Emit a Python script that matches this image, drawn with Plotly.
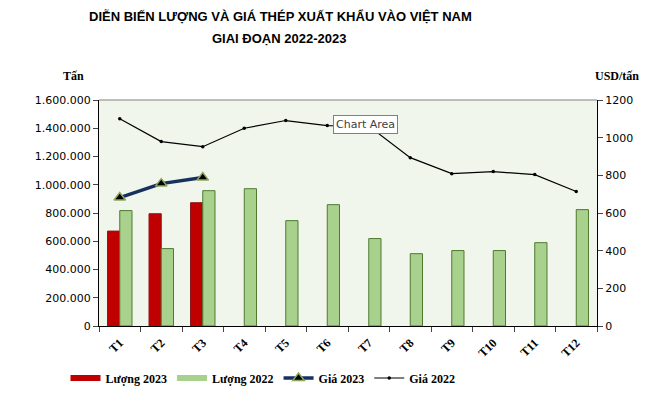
import plotly.graph_objects as go

months = ["T1", "T2", "T3", "T4", "T5", "T6", "T7", "T8", "T9", "T10", "T11", "T12"]
luong_2023 = [672000, 795000, 873000, None, None, None, None, None, None, None, None, None]
luong_2022 = [817000, 548000, 958000, 972000, 746000, 859000, 619000, 512000, 534000, 534000, 590000, 824000]
gia_2023 = [682, 756, 788, None, None, None, None, None, None, None, None, None]
gia_2022 = [1101, 979, 952, 1050, 1091, 1064, 1062, 894, 809, 820, 804, 714]

serif = "Liberation Serif"
sans = "DejaVu Sans"
title_font = "Liberation Sans"

# page body has an 8px margin; figure sized so that it fits the 658x396 window
W, H, OFF = 642, 380, 8
PL, PR, PT, PB = 99, 597, 100, 326  # plot area in window pixels

fig = go.Figure()
fig.add_trace(go.Bar(x=months, y=luong_2023, name="Lượng 2023", showlegend=False,
                     marker=dict(color="#C00000", line=dict(color="#8B1A1A", width=1))))
fig.add_trace(go.Bar(x=months, y=luong_2022, name="Lượng 2022", showlegend=False,
                     marker=dict(color="#A9D18E", line=dict(color="#4F7A2E", width=1))))
# legend entries for the bars (wide flat swatches like the original)
fig.add_trace(go.Scatter(x=[None], y=[None], name="<b>Lượng 2023</b>", mode="lines",
                         line=dict(color="#C00000", width=6)))
fig.add_trace(go.Scatter(x=[None], y=[None], name="<b>Lượng 2022</b>", mode="lines",
                         line=dict(color="#A9D18E", width=6)))
fig.add_trace(go.Scatter(x=months, y=gia_2023, name="<b>Giá 2023</b>", yaxis="y2", mode="lines+markers",
                         line=dict(color="#17315E", width=3.5),
                         marker=dict(symbol="triangle-up", size=10, color="#000000",
                                     line=dict(color="#8DA65A", width=1.5))))
fig.add_trace(go.Scatter(x=months, y=gia_2022, name="<b>Giá 2022</b>", yaxis="y2", mode="lines+markers",
                         line=dict(color="#000000", width=1.2),
                         marker=dict(symbol="circle", size=3.5, color="#000000")))

fig.update_layout(
    width=W, height=H,
    margin=dict(l=PL - OFF, r=W - (PR - OFF), t=PT - OFF, b=H - (PB - OFF), autoexpand=False),
    paper_bgcolor="white",
    plot_bgcolor="#F1F6ED",
    separators=",.",
    barmode="group",
    bargap=0.41,
    bargroupgap=0,
    showlegend=True,
    legend=dict(orientation="h", xref="container", yref="container",
                x=(263 - OFF) / W, xanchor="center", y=(H - (378 - OFF)) / H, yanchor="middle",
                font=dict(family=serif, size=12, color="black"),
                itemwidth=30, tracegroupgap=0, traceorder="normal",
                bgcolor="rgba(0,0,0,0)"),
    xaxis=dict(type="category", tickson="boundaries", ticks="outside", ticklen=5,
               showline=True, linecolor="black", linewidth=1, tickangle=-45, automargin=False,
               ticklabelstandoff=4,
               tickmode="array", tickvals=months, ticktext=["<b>" + m + "</b>" for m in months],
               tickfont=dict(family=serif, size=12, color="black"), showgrid=False,
               range=[-0.5, 11.5]),
    yaxis=dict(range=[0, 1600000], dtick=200000, tickformat=",d", ticks="outside", ticklen=5,
               showline=True, linecolor="black", linewidth=1, showgrid=False, zeroline=False,
               automargin=False, tickfont=dict(family=sans, size=11, color="black")),
    yaxis2=dict(range=[0, 1200], dtick=200, overlaying="y", side="right", ticks="outside", ticklen=5,
                showline=True, linecolor="black", linewidth=1, showgrid=False, zeroline=False,
                automargin=False, tickfont=dict(family=sans, size=11, color="black")),
    font=dict(family=serif, color="black"),
)

fig.add_shape(type="line", xref="paper", yref="paper", x0=0, x1=1, y0=1, y1=1,
              line=dict(color="#808080", width=1))

pw, ph = PR - PL, PB - PT


def px(x):
    return (x - PL) / pw


def py(y):
    return (PB - y) / ph


fig.add_annotation(text="<b>DIỄN BIẾN LƯỢNG VÀ GIÁ THÉP XUẤT KHẨU VÀO VIỆT NAM</b>",
                   xref="paper", yref="paper", x=px(280), y=py(16),
                   showarrow=False, xanchor="center", yanchor="middle",
                   font=dict(family=title_font, size=13, color="black"))
fig.add_annotation(text="<b>GIAI ĐOẠN 2022-2023</b>",
                   xref="paper", yref="paper", x=px(279), y=py(38),
                   showarrow=False, xanchor="center", yanchor="middle",
                   font=dict(family=title_font, size=13, color="black"))
fig.add_annotation(text="<b>Tấn</b>", xref="paper", yref="paper", x=px(73), y=py(76),
                   showarrow=False, xanchor="center", yanchor="middle",
                   font=dict(family=serif, size=12, color="black"))
fig.add_annotation(text="<b>USD/tấn</b>", xref="paper", yref="paper", x=px(617), y=py(76),
                   showarrow=False, xanchor="center", yanchor="middle",
                   font=dict(family=serif, size=12, color="black"))
fig.add_annotation(text="Chart Area", xref="paper", yref="paper", x=px(365), y=py(124),
                   showarrow=False, xanchor="center", yanchor="middle",
                   bgcolor="white", bordercolor="#808080", borderwidth=1, borderpad=2,
                   font=dict(family=sans, size=11, color="#404040"))

fig.write_html("out.html")
